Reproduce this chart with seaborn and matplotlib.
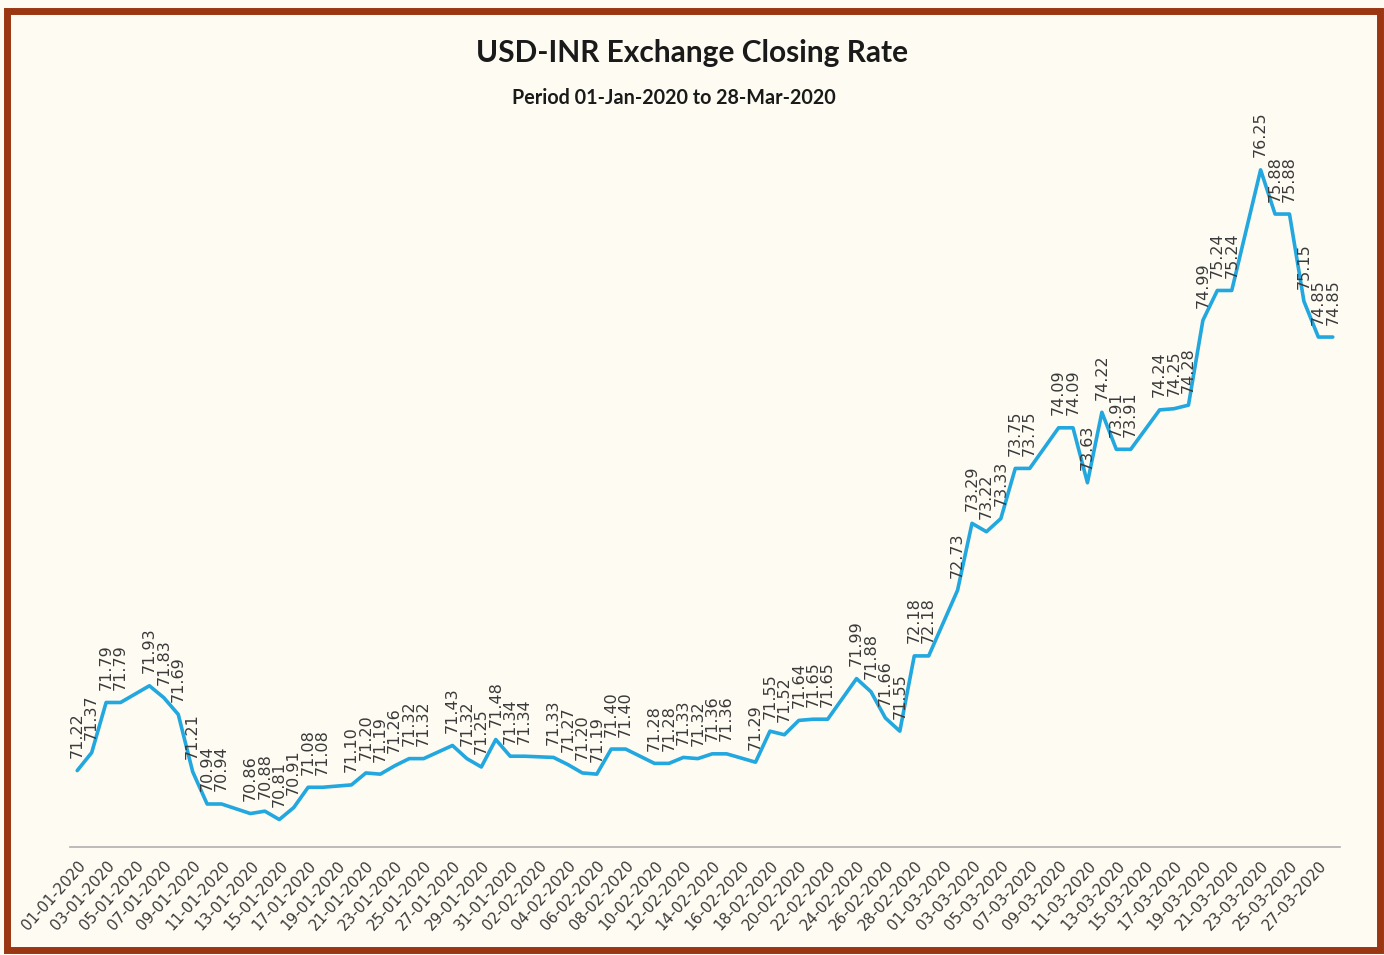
import matplotlib
matplotlib.use('Agg')
import matplotlib.pyplot as plt
import pandas as pd
import numpy as np
import seaborn as sns
from matplotlib.patches import Rectangle

# daily closing rate, None = no quote (Sundays)
jan_rates = [71.22, 71.37, 71.79, 71.79, None, 71.93, 71.83, 71.69, 71.21, 70.94,
             70.94, None, 70.86, 70.88, 70.81, 70.91, 71.08, 71.08, None, 71.10,
             71.20, 71.19, 71.26, 71.32, 71.32, None, 71.43, 71.32, 71.25, 71.48,
             71.34]
feb_rates = [71.34, None, 71.33, 71.27, 71.20, 71.19, 71.40, 71.40, None, 71.28,
             71.28, 71.33, 71.32, 71.36, 71.36, None, 71.29, 71.55, 71.52, 71.64,
             71.65, 71.65, None, 71.99, 71.88, 71.66, 71.55, 72.18, 72.18]
mar_rates = [None, 72.73, 73.29, 73.22, 73.33, 73.75, 73.75, None, 74.09, 74.09,
             73.63, 74.22, 73.91, 73.91, None, 74.24, 74.25, 74.28, 74.99, 75.24,
             75.24, None, 76.25, 75.88, 75.88, 75.15, 74.85, 74.85]

dates = pd.date_range('2020-01-01', '2020-03-28', freq='D')
rates = jan_rates + feb_rates + mar_rates

data = pd.DataFrame({'day': np.arange(len(dates)),
                     'date': dates.strftime('%d-%m-%Y'),
                     'rate': pd.Series(rates, dtype=float)})

title = 'USD-INR Exchange Closing Rate'
subtitle = 'Period 01-Jan-2020 to 28-Mar-2020'

bg = '#FEFBF2'
sns.set_style('white')
plt.rcParams['font.family'] = ['DejaVu Sans']

fig = plt.figure(figsize=(13.84, 9.55), dpi=100, facecolor=bg)
ax = fig.add_axes([0.0506, 0.1131, 0.9176, 0.7403])
ax.set_facecolor(bg)

sns.lineplot(x='day', y='rate', data=data, ax=ax, color='#22A7DF', lw=2.6)

# data labels above each quoted day
for _, row in data.dropna().iterrows():
    ax.annotate('%.2f' % row.rate, (row.day, row.rate), xytext=(0, 9),
                textcoords='offset points', rotation=90, ha='center', va='bottom',
                fontsize=11.5, color='#3a3a3a')

ax.set_xlim(-0.5, len(dates) - 0.5)
ax.set_ylim(70.58, 76.5)

# labels every 2nd day, ticks on the category boundaries
ax.set_xticks(data.day[::2])
ax.set_xticklabels(data.date[::2], rotation=48, ha='right', rotation_mode='anchor',
                   fontsize=10.8, color='#3a3a3a')
ax.tick_params(axis='x', which='major', length=0, pad=8)
ax.set_xticks(np.arange(-0.5, len(dates), 2), minor=True)
ax.tick_params(axis='x', which='minor', length=5, color='#bfbfbf', width=1)
ax.set_yticks([])
ax.set_xlabel('')
ax.set_ylabel('')

for side in ['top', 'right', 'left']:
    ax.spines[side].set_visible(False)
ax.spines['bottom'].set_color('#b0b0b0')
ax.spines['bottom'].set_linewidth(1.2)

fig.text(0.5, 1 - 53 / 955, title, ha='center', va='center', fontsize=21.5,
         fontweight='bold', family='Lato', color='#1a1a1a')
fig.text(674 / 1384, 1 - 98 / 955, subtitle, ha='center', va='center', fontsize=14.2,
         fontweight='bold', family='Lato', color='#1a1a1a')

fig.patches.append(Rectangle((0.005, 0.005), 0.992, 0.9835, transform=fig.transFigure,
                             fill=False, edgecolor='#9A3612', lw=5))

plt.savefig('out.png', dpi=100, facecolor=bg)
